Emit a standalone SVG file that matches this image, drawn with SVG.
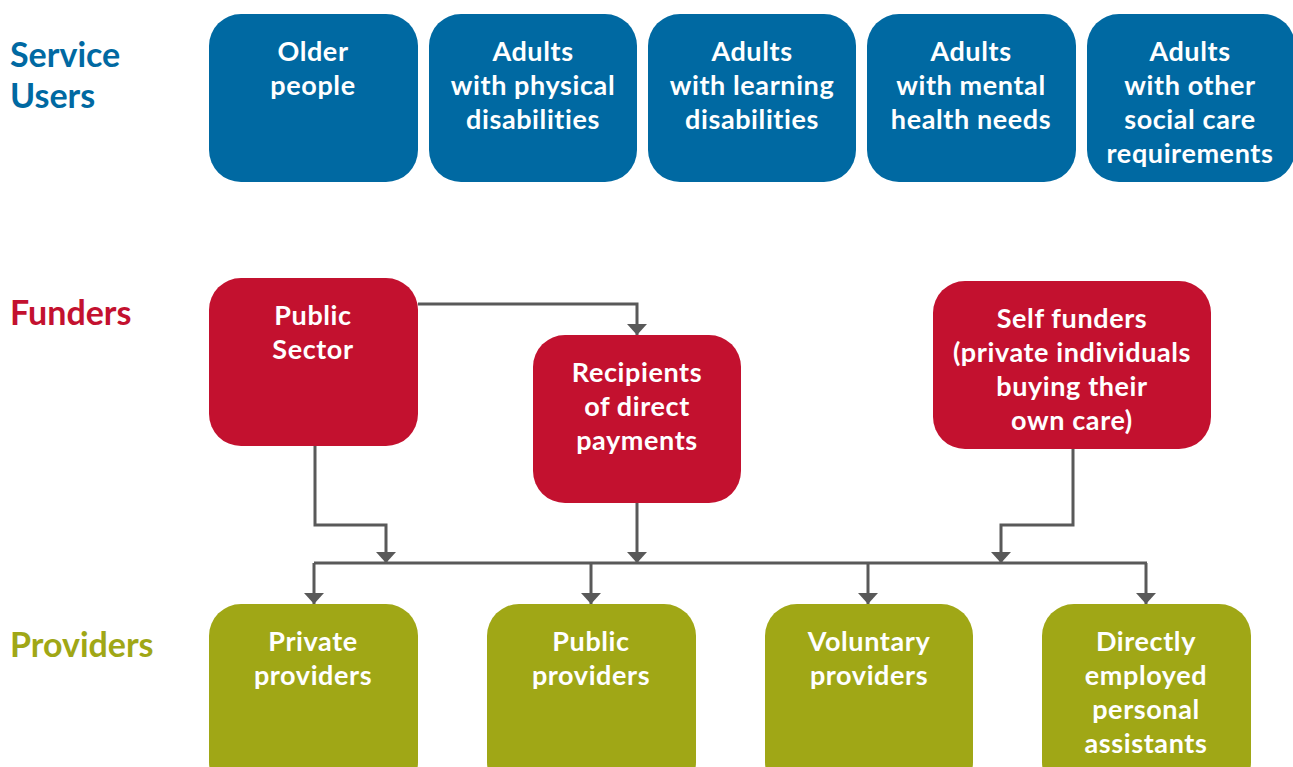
<svg xmlns="http://www.w3.org/2000/svg" width="1293" height="767" viewBox="0 0 1293 767">
<defs>
<marker id="ah" viewBox="0 0 11 20" refX="11" refY="10" markerWidth="11" markerHeight="20" markerUnits="userSpaceOnUse" orient="auto">
<path d="M0,0 L11,10 L0,20 Z" fill="#595959"/>
</marker>
<style>
.u{fill:#0069a2}
.f{fill:#c3112f}
.p{fill:#a0a716}
.t{font-family:Lato,"Open Sans","Noto Sans",sans-serif;font-weight:bold;font-size:27px;letter-spacing:0.6px;fill:#fff;text-anchor:middle}
.h{font-family:Lato,"Open Sans","Noto Sans",sans-serif;font-weight:bold;font-size:34px}
.c{fill:none;stroke:#595959;stroke-width:3}
.a{marker-end:url(#ah)}
</style>
</defs>
<rect width="1293" height="767" fill="#fff"/>
<g id="labels">
<text class="h" x="10" y="67" fill="#0069a2">Service</text>
<text class="h" x="10" y="108" fill="#0069a2">Users</text>
<text class="h" x="10" y="325" fill="#c3112f">Funders</text>
<text class="h" x="10" y="657" fill="#a0a716">Providers</text>
</g>
<g id="connectors">
<path class="c a" d="M418,304 H637 V335"/>
<path class="c a" d="M315,446 V525 H386 V563"/>
<path class="c a" d="M637,503 V563"/>
<path class="c a" d="M1073,449 V525 H1001 V563"/>
<path class="c" d="M314,563 H1147"/>
<path class="c a" d="M314,563 V604"/>
<path class="c a" d="M591,563 V604"/>
<path class="c a" d="M868,563 V604"/>
<path class="c a" d="M1146,563 V604"/>
</g>
<g id="older">
<rect class="u" x="209" y="14" width="209" height="168" rx="32"/>
<text class="t"><tspan x="313" y="61">Older</tspan><tspan x="313" y="95">people</tspan></text>
</g>
<g id="physical">
<rect class="u" x="429" y="14" width="208" height="168" rx="32"/>
<text class="t"><tspan x="533" y="61">Adults</tspan><tspan x="533" y="95">with physical</tspan><tspan x="533" y="129">disabilities</tspan></text>
</g>
<g id="learning">
<rect class="u" x="648" y="14" width="208" height="168" rx="32"/>
<text class="t"><tspan x="752" y="61">Adults</tspan><tspan x="752" y="95">with learning</tspan><tspan x="752" y="129">disabilities</tspan></text>
</g>
<g id="mental">
<rect class="u" x="867" y="14" width="209" height="168" rx="32"/>
<text class="t"><tspan x="971" y="61">Adults</tspan><tspan x="971" y="95">with mental</tspan><tspan x="971" y="129">health needs</tspan></text>
</g>
<g id="other">
<rect class="u" x="1087" y="14" width="208" height="168" rx="32"/>
<text class="t"><tspan x="1190" y="61">Adults</tspan><tspan x="1190" y="95">with other</tspan><tspan x="1190" y="129">social care</tspan><tspan x="1190" y="163">requirements</tspan></text>
</g>
<g id="public-sector">
<rect class="f" x="209" y="278" width="209" height="168" rx="32"/>
<text class="t"><tspan x="313" y="325">Public</tspan><tspan x="313" y="359">Sector</tspan></text>
</g>
<g id="recipients">
<rect class="f" x="533" y="335" width="208" height="168" rx="32"/>
<text class="t"><tspan x="637" y="382">Recipients</tspan><tspan x="637" y="416">of direct</tspan><tspan x="637" y="450">payments</tspan></text>
</g>
<g id="self-funders">
<rect class="f" x="933" y="281" width="278" height="168" rx="32"/>
<text class="t"><tspan x="1072" y="328">Self funders</tspan><tspan x="1072" y="362">(private individuals</tspan><tspan x="1072" y="396">buying their</tspan><tspan x="1072" y="430">own care)</tspan></text>
</g>
<g id="private">
<rect class="p" x="209" y="604" width="209" height="190" rx="32"/>
<text class="t"><tspan x="313" y="651">Private</tspan><tspan x="313" y="685">providers</tspan></text>
</g>
<g id="public-providers">
<rect class="p" x="487" y="604" width="209" height="190" rx="32"/>
<text class="t"><tspan x="591" y="651">Public</tspan><tspan x="591" y="685">providers</tspan></text>
</g>
<g id="voluntary">
<rect class="p" x="765" y="604" width="208" height="190" rx="32"/>
<text class="t"><tspan x="869" y="651">Voluntary</tspan><tspan x="869" y="685">providers</tspan></text>
</g>
<g id="direct">
<rect class="p" x="1042" y="604" width="209" height="190" rx="32"/>
<text class="t"><tspan x="1146" y="651">Directly</tspan><tspan x="1146" y="685">employed</tspan><tspan x="1146" y="719">personal</tspan><tspan x="1146" y="753">assistants</tspan></text>
</g>
</svg>
